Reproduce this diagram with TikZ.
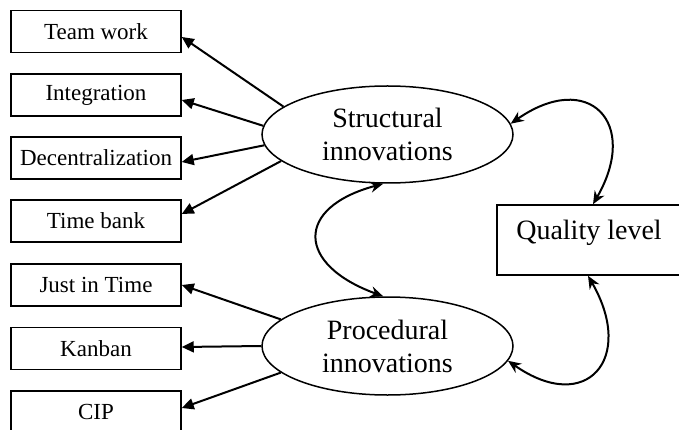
\documentclass[tikz,border=0pt]{standalone}
\usepackage{fontspec}
\setmainfont{Liberation Serif}
\usetikzlibrary{shapes.geometric,arrows.meta}

\begin{document}
\begin{tikzpicture}[x=1pt,y=1pt,
    leaf/.style={draw, line width=1.5pt, rectangle, minimum width=170pt, minimum height=42pt, inner sep=0pt, font=\fontsize{23}{27}\selectfont},
    factor/.style={draw, line width=1.5pt, ellipse, minimum width=251pt, minimum height=97pt, inner sep=0pt, align=center, font=\fontsize{28}{33}\selectfont},
    link/.style={line width=2pt, -{Triangle[length=12pt,width=11pt]}},
    dbl/.style={line width=2pt, {Stealth[length=13pt,width=11pt]}-{Stealth[length=13pt,width=11pt]}}]

\useasboundingbox (0,0) rectangle (679,-430);
\clip (0,0) rectangle (679,-430);

% left column
\node [leaf] (team)   at (96,-31.5) {Team work};
\node [leaf] (integ)  at (96,-95)   {Integration};
\node [leaf] (decent) at (96,-158)  {Decentralization};
\node [leaf] (tbank)  at (96,-221)  {Time bank};
\node [leaf] (jit)    at (96,-285)  {Just in Time};
\node [leaf] (kanban) at (96,-348.5){Kanban};
\node [leaf] (cip)    at (96,-412)  {CIP};

% the two kinds of innovation
\node [factor] (struct) at (387.5,-134.5) {Structural\\innovations};
\node [factor, minimum height=98pt] (proc) at (387.5,-346) {Procedural\\innovations};

% quality level
\node [draw, line width=1.5pt, rectangle, minimum width=190pt, minimum height=70pt, inner sep=0pt] (quality) at (592,-240) {};
\node [anchor=base, inner sep=0pt, font=\fontsize{28}{33}\selectfont] (qtext) at (589,-240) {Quality level};

\draw [link] (struct.165.6) -- ([yshift=-5.5pt]team.east);
\draw [link] (struct.176.8) -- ([yshift=-5pt]integ.east);
\draw [link] (struct.185.5) -- ([yshift=-4pt]decent.east);
\draw [link] (struct.194.9) -- ([yshift=7pt]tbank.east);

\draw [link] (proc.166) -- (jit.east);
\draw [link] (proc.180) -- ([yshift=1.5pt]kanban.east);
\draw [link] (proc.194) -- ([yshift=4pt]cip.east);

\draw [dbl] (struct.265) to [out=195, in=160, looseness=2.1] (proc.95);
\draw [dbl] (struct.5.5) to [out=35, in=60, looseness=2.1] ([xshift=1pt]quality.north);
\draw [dbl] (proc.-7) to [out=-35, in=-60, looseness=2.1] ([xshift=-4pt]quality.south);

\end{tikzpicture}
\end{document}
